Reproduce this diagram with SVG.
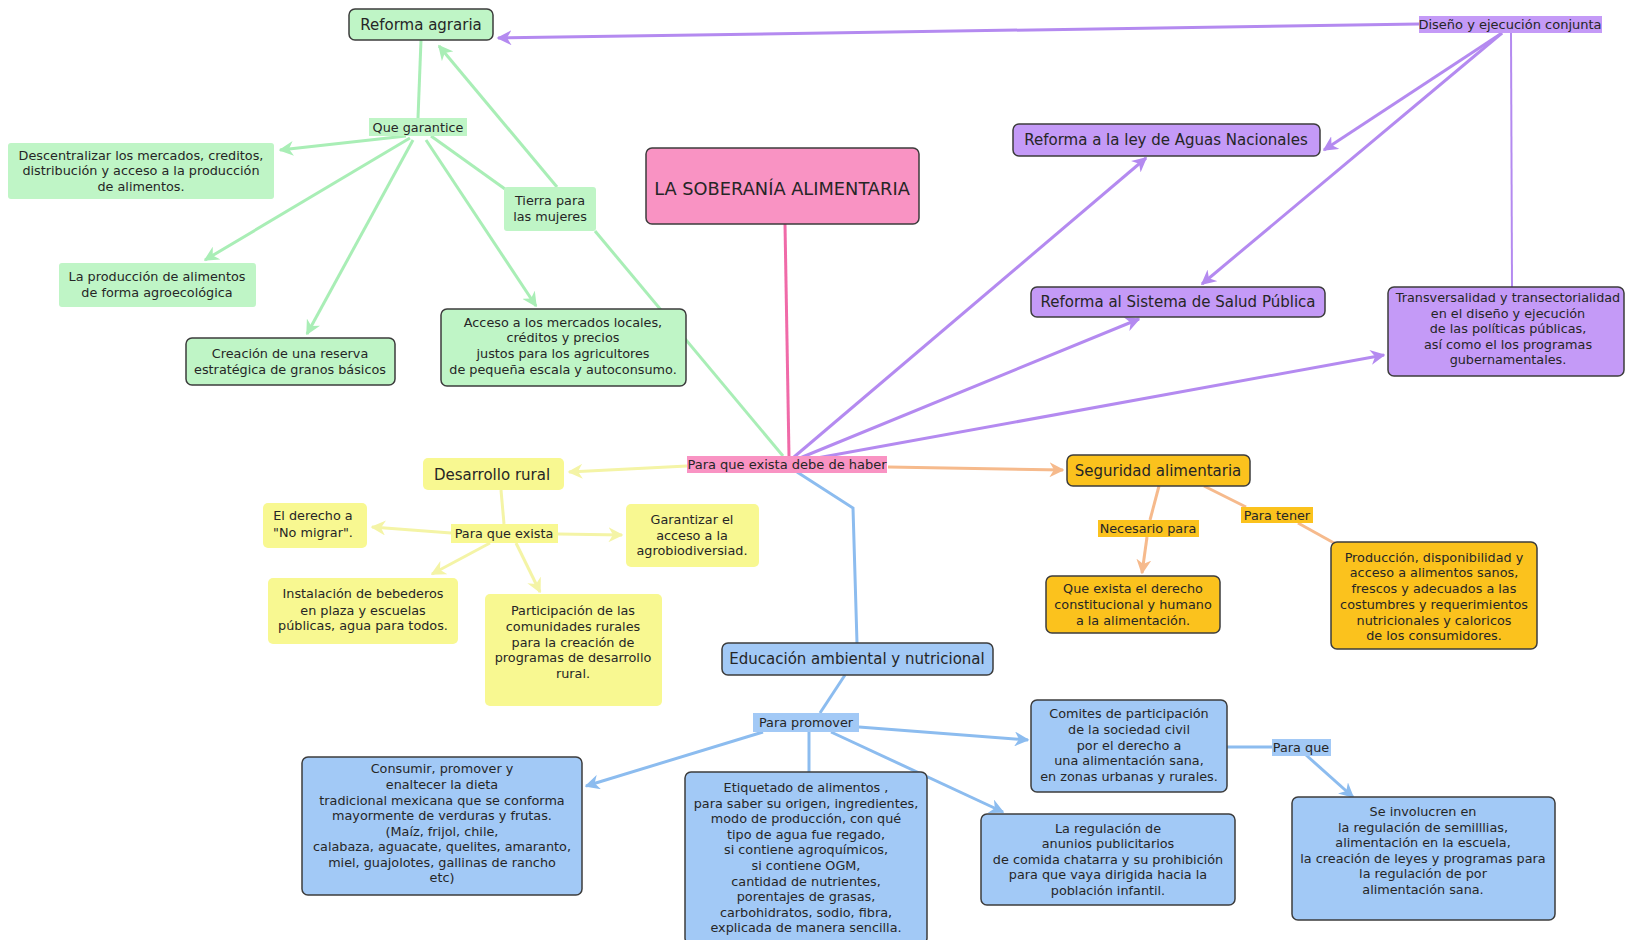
<svg xmlns="http://www.w3.org/2000/svg" width="1628" height="940" viewBox="0 0 1628 940">
<style>
text{font-family:"DejaVu Sans",Verdana,sans-serif;fill:#262626;text-anchor:middle}
.t12{font-size:12.8px}
.t13{font-size:13px}
.t15{font-size:15px}
.t16{font-size:17.8px}
.b{stroke:#3c3c3c;stroke-width:1.5}
.g{fill:#bff5c6}.p{fill:#f993c3}.v{fill:#c49af7}.y{fill:#f8f891}.o{fill:#fbc21d}.u{fill:#a2c9f6}
.lg{stroke:#a9eeb6;stroke-width:3;fill:none}
.lp{stroke:#f06aa8;stroke-width:3;fill:none}
.lv{stroke:#b48af0;stroke-width:3;fill:none}
.ly{stroke:#f4f4a6;stroke-width:3;fill:none}
.lo{stroke:#f6ba8c;stroke-width:3;fill:none}
.lu{stroke:#8cbcef;stroke-width:3;fill:none}
</style>
<defs>
<marker id="ag" viewBox="0 0 10 10" refX="9" refY="5" markerWidth="5" markerHeight="5" orient="auto" markerUnits="strokeWidth"><path d="M0,0L10,5L0,10L3,5z" fill="#a9eeb6"/></marker>
<marker id="av" viewBox="0 0 10 10" refX="9" refY="5" markerWidth="5" markerHeight="5" orient="auto" markerUnits="strokeWidth"><path d="M0,0L10,5L0,10L3,5z" fill="#b48af0"/></marker>
<marker id="ay" viewBox="0 0 10 10" refX="9" refY="5" markerWidth="5" markerHeight="5" orient="auto" markerUnits="strokeWidth"><path d="M0,0L10,5L0,10L3,5z" fill="#f4f4a6"/></marker>
<marker id="ao" viewBox="0 0 10 10" refX="9" refY="5" markerWidth="5" markerHeight="5" orient="auto" markerUnits="strokeWidth"><path d="M0,0L10,5L0,10L3,5z" fill="#f6ba8c"/></marker>
<marker id="au" viewBox="0 0 10 10" refX="9" refY="5" markerWidth="5" markerHeight="5" orient="auto" markerUnits="strokeWidth"><path d="M0,0L10,5L0,10L3,5z" fill="#8cbcef"/></marker>
</defs>
<rect width="1628" height="940" fill="#ffffff"/>

<g id="connectors">
<!-- green -->
<line class="lg" x1="421" y1="40" x2="418" y2="118"/>
<line class="lg" x1="406" y1="136" x2="280" y2="150" marker-end="url(#ag)"/>
<line class="lg" x1="410" y1="138" x2="205" y2="260" marker-end="url(#ag)"/>
<line class="lg" x1="413" y1="140" x2="307" y2="334" marker-end="url(#ag)"/>
<line class="lg" x1="426" y1="140" x2="536" y2="306" marker-end="url(#ag)"/>
<line class="lg" x1="431" y1="136" x2="505" y2="189"/>
<line class="lg" x1="783" y1="456" x2="595" y2="231"/>
<line class="lg" x1="557" y1="187" x2="439" y2="46" marker-end="url(#ag)"/>
<!-- pink -->
<line class="lp" x1="785" y1="224" x2="789" y2="456"/>
<!-- purple -->
<line class="lv" x1="794" y1="457" x2="1146" y2="158" marker-end="url(#av)"/>
<line class="lv" x1="800" y1="458" x2="1139" y2="319" marker-end="url(#av)"/>
<line class="lv" x1="806" y1="460" x2="1384" y2="355" marker-end="url(#av)"/>
<line class="lv" x1="1419" y1="24" x2="498" y2="38" marker-end="url(#av)"/>
<line class="lv" x1="1502" y1="33" x2="1324" y2="150" marker-end="url(#av)"/>
<line class="lv" x1="1502" y1="33" x2="1202" y2="284" marker-end="url(#av)"/>
<line class="lv" x1="1511" y1="33" x2="1512" y2="287" style="stroke-width:2"/>
<!-- orange -->
<line class="lo" x1="888" y1="467" x2="1063" y2="470" marker-end="url(#ao)"/>
<line class="lo" x1="1159" y1="486" x2="1150" y2="520"/>
<line class="lo" x1="1147" y1="537" x2="1142" y2="573" marker-end="url(#ao)"/>
<line class="lo" x1="1204" y1="486" x2="1246" y2="507"/>
<line class="lo" x1="1298" y1="523" x2="1334" y2="543"/>
<!-- yellow -->
<line class="ly" x1="687" y1="466" x2="569" y2="472" marker-end="url(#ay)"/>
<line class="ly" x1="501" y1="490" x2="504" y2="524"/>
<line class="ly" x1="451" y1="533" x2="372" y2="527" marker-end="url(#ay)"/>
<line class="ly" x1="558" y1="534" x2="622" y2="535" marker-end="url(#ay)"/>
<line class="ly" x1="490" y1="543" x2="432" y2="574" marker-end="url(#ay)"/>
<line class="ly" x1="516" y1="543" x2="540" y2="592" marker-end="url(#ay)"/>
<!-- blue -->
<polyline class="lu" points="797,472 853,508 857,643"/>
<line class="lu" x1="845" y1="675" x2="820" y2="713"/>
<line class="lu" x1="763" y1="732" x2="586" y2="786" marker-end="url(#au)"/>
<line class="lu" x1="809" y1="732" x2="809" y2="772"/>
<line class="lu" x1="831" y1="732" x2="1003" y2="812" marker-end="url(#au)"/>
<line class="lu" x1="859" y1="727" x2="1028" y2="740" marker-end="url(#au)"/>
<line class="lu" x1="1227" y1="747" x2="1272" y2="747"/>
<line class="lu" x1="1306" y1="755" x2="1353" y2="797" marker-end="url(#au)"/>
</g>

<g id="reforma-agraria"><rect class="g b" x="349" y="9" width="144" height="31" rx="6"/><text class="t15" x="421" y="30">Reforma agraria</text></g>
<g id="que-garantice"><rect class="g" x="369" y="118" width="98" height="18"/><text class="t12" x="418" y="132">Que garantice</text></g>
<g id="descentralizar"><rect class="g" x="8" y="143" width="266" height="56" rx="3"/><text class="t12"><tspan x="141" y="160">Descentralizar los mercados, creditos,</tspan><tspan x="141" y="175">distribución y acceso a la producción</tspan><tspan x="141" y="191">de alimentos.</tspan></text></g>
<g id="tierra"><rect class="g" x="504" y="187" width="92" height="44" rx="3"/><text class="t12"><tspan x="550" y="205">Tierra para</tspan><tspan x="550" y="221">las mujeres</tspan></text></g>
<g id="produccion-agroecologica"><rect class="g" x="59" y="263" width="197" height="44" rx="3"/><text class="t12"><tspan x="157" y="281">La producción de alimentos</tspan><tspan x="157" y="297">de forma agroecológica</tspan></text></g>
<g id="reserva"><rect class="g b" x="186" y="338" width="209" height="47" rx="6"/><text class="t12"><tspan x="290" y="358">Creación de una reserva</tspan><tspan x="290" y="374">estratégica de granos básicos</tspan></text></g>
<g id="acceso-mercados"><rect class="g b" x="441" y="309" width="245" height="77" rx="6"/><text class="t12"><tspan x="563" y="327">Acceso a los mercados locales,</tspan><tspan x="563" y="342">créditos y precios</tspan><tspan x="563" y="358">justos para los agricultores</tspan><tspan x="563" y="374">de pequeña escala y autoconsumo.</tspan></text></g>

<g id="soberania"><rect class="p b" x="646" y="148" width="273" height="76" rx="6"/><text class="t16" x="782" y="195">LA SOBERANÍA ALIMENTARIA</text></g>
<g id="para-que-exista-debe"><rect class="p" x="687" y="456" width="200" height="17"/><text class="t13" x="787" y="469">Para que exista debe de haber</text></g>

<g id="diseno"><rect class="v" x="1419" y="16" width="183" height="17"/><text class="t13" x="1510" y="29">Diseño y ejecución conjunta</text></g>
<g id="aguas"><rect class="v b" x="1013" y="124" width="307" height="32" rx="6"/><text class="t15" x="1166" y="145">Reforma a la ley de Aguas Nacionales</text></g>
<g id="salud"><rect class="v b" x="1031" y="287" width="294" height="30" rx="6"/><text class="t15" x="1178" y="307">Reforma al Sistema de Salud Pública</text></g>
<g id="transversalidad"><rect class="v b" x="1388" y="287" width="236" height="89" rx="6"/><text class="t12"><tspan x="1508" y="302">Transversalidad y transectorialidad</tspan><tspan x="1508" y="318">en el diseño y ejecución</tspan><tspan x="1508" y="333">de las políticas públicas,</tspan><tspan x="1508" y="349">así como el los programas</tspan><tspan x="1508" y="364">gubernamentales.</tspan></text></g>

<g id="desarrollo-rural"><rect class="y" x="423" y="458" width="141" height="32" rx="5"/><text class="t15" x="492" y="480">Desarrollo rural</text></g>
<g id="para-que-exista"><rect class="y" x="451" y="524" width="107" height="19"/><text class="t12" x="504" y="538">Para que exista</text></g>
<g id="no-migrar"><rect class="y" x="263" y="503" width="104" height="45" rx="5"/><text class="t12"><tspan x="313" y="520">El derecho a</tspan><tspan x="313" y="537">"No migrar".</tspan></text></g>
<g id="agrobiodiversidad"><rect class="y" x="626" y="504" width="133" height="63" rx="5"/><text class="t12"><tspan x="692" y="524">Garantizar el</tspan><tspan x="692" y="540">acceso a la</tspan><tspan x="692" y="555">agrobiodiversiad.</tspan></text></g>
<g id="bebederos"><rect class="y" x="268" y="578" width="190" height="66" rx="5"/><text class="t12"><tspan x="363" y="598">Instalación de bebederos</tspan><tspan x="363" y="615">en plaza y escuelas</tspan><tspan x="363" y="630">públicas, agua para todos.</tspan></text></g>
<g id="participacion-rural"><rect class="y" x="485" y="594" width="177" height="112" rx="5"/><text class="t12"><tspan x="573" y="615">Participación de las</tspan><tspan x="573" y="631">comunidades rurales</tspan><tspan x="573" y="647">para la creación de</tspan><tspan x="573" y="662">programas de desarrollo</tspan><tspan x="573" y="678">rural.</tspan></text></g>

<g id="seguridad"><rect class="o b" x="1067" y="455" width="183" height="31" rx="6"/><text class="t15" x="1158" y="476">Seguridad alimentaria</text></g>
<g id="necesario-para"><rect class="o" x="1098" y="520" width="101" height="17"/><text class="t12" x="1148" y="533">Necesario para</text></g>
<g id="para-tener"><rect class="o" x="1241" y="507" width="72" height="16"/><text class="t12" x="1277" y="520">Para tener</text></g>
<g id="derecho-constitucional"><rect class="o b" x="1046" y="576" width="174" height="57" rx="6"/><text class="t12"><tspan x="1133" y="593">Que exista el derecho</tspan><tspan x="1133" y="609">constitucional y humano</tspan><tspan x="1133" y="625">a la alimentación.</tspan></text></g>
<g id="produccion-disponibilidad"><rect class="o b" x="1331" y="542" width="206" height="107" rx="6"/><text class="t12"><tspan x="1434" y="562">Producción, disponibilidad y</tspan><tspan x="1434" y="577">acceso a alimentos sanos,</tspan><tspan x="1434" y="593">frescos y adecuados a las</tspan><tspan x="1434" y="609">costumbres y requerimientos</tspan><tspan x="1434" y="625">nutricionales y caloricos</tspan><tspan x="1434" y="640">de los consumidores.</tspan></text></g>

<g id="educacion"><rect class="u b" x="722" y="643" width="271" height="32" rx="6"/><text class="t15" x="857" y="664">Educación ambiental y nutricional</text></g>
<g id="para-promover"><rect class="u" x="753" y="713" width="106" height="19"/><text class="t12" x="806" y="727">Para promover</text></g>
<g id="consumir"><rect class="u b" x="302" y="757" width="280" height="138" rx="6"/><text class="t12"><tspan x="442" y="773">Consumir, promover y</tspan><tspan x="442" y="789">enaltecer la dieta</tspan><tspan x="442" y="805">tradicional mexicana que se conforma</tspan><tspan x="442" y="820">mayormente de verduras y frutas.</tspan><tspan x="442" y="836">(Maíz, frijol, chile,</tspan><tspan x="442" y="851">calabaza, aguacate, quelites, amaranto,</tspan><tspan x="442" y="867">miel, guajolotes, gallinas de rancho</tspan><tspan x="442" y="882">etc)</tspan></text></g>
<g id="etiquetado"><rect class="u b" x="685" y="772" width="242" height="172" rx="6"/><text class="t12"><tspan x="806" y="792">Etiquetado de  alimentos ,</tspan><tspan x="806" y="808">para saber su origen, ingredientes,</tspan><tspan x="806" y="823">modo de producción, con qué</tspan><tspan x="806" y="839">tipo de agua fue regado,</tspan><tspan x="806" y="854">si contiene agroquímicos,</tspan><tspan x="806" y="870">si contiene OGM,</tspan><tspan x="806" y="886">cantidad de nutrientes,</tspan><tspan x="806" y="901">porentajes de grasas,</tspan><tspan x="806" y="917">carbohidratos, sodio, fibra,</tspan><tspan x="806" y="932">explicada de manera sencilla.</tspan></text></g>
<g id="regulacion-anuncios"><rect class="u b" x="981" y="814" width="254" height="91" rx="6"/><text class="t12"><tspan x="1108" y="833">La regulación de</tspan><tspan x="1108" y="848">anunios publicitarios</tspan><tspan x="1108" y="864">de comida chatarra y su prohibición</tspan><tspan x="1108" y="879">para que vaya dirigida hacia la</tspan><tspan x="1108" y="895">población infantil.</tspan></text></g>
<g id="comites"><rect class="u b" x="1031" y="700" width="196" height="92" rx="6"/><text class="t12"><tspan x="1129" y="718">Comites de  participación</tspan><tspan x="1129" y="734">de la sociedad civil</tspan><tspan x="1129" y="750">por el derecho a</tspan><tspan x="1129" y="765">una alimentación sana,</tspan><tspan x="1129" y="781">en zonas urbanas y rurales.</tspan></text></g>
<g id="para-que"><rect class="u" x="1272" y="739" width="59" height="17"/><text class="t12" x="1301" y="752">Para que</text></g>
<g id="se-involucren"><rect class="u b" x="1292" y="797" width="263" height="123" rx="6"/><text class="t12"><tspan x="1423" y="816">Se involucren en</tspan><tspan x="1423" y="832">la regulación de semilllias,</tspan><tspan x="1423" y="847">alimentación en la escuela,</tspan><tspan x="1423" y="863">la creación de leyes y programas para</tspan><tspan x="1423" y="878">la regulación de por</tspan><tspan x="1423" y="894">alimentación sana.</tspan></text></g>
</svg>
